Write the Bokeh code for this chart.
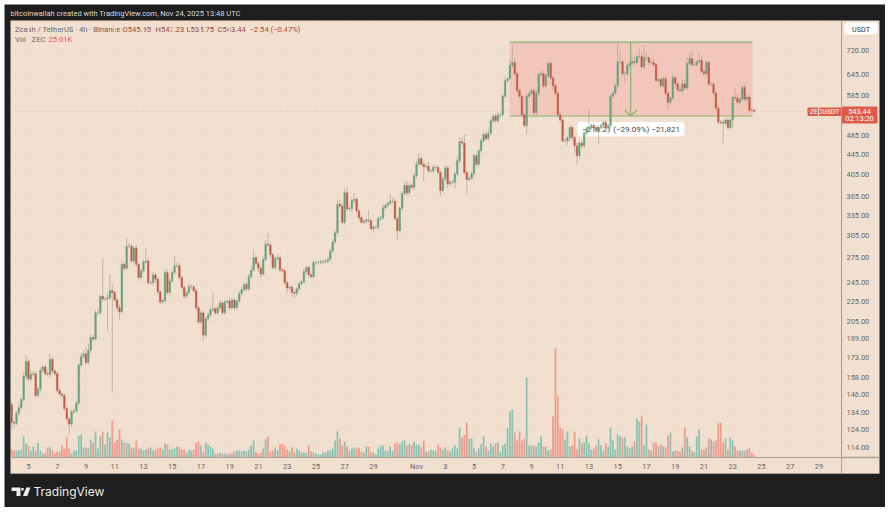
from bokeh.plotting import figure
from bokeh.embed import file_html
from bokeh.resources import INLINE
from bokeh.models import (BoxAnnotation, ColumnDataSource, FixedTicker, Label, LinearScale,
                          PolyAnnotation, PrintfTickFormatter, Range1d, Span)

first_open = 139
closes = [
 128,127.5,133.5,137,142.5,158.5,170,156.5,160,160.5,
 145,149.5,163,165.5,160.5,160,171.5,162.5,160.5,148.5,
 146,145,136.5,130,127,134.5,135,140,167,174,
 176,169,179,190,188.5,213,213,230,227,227,
 228.5,236,234,226,218,214,267,262,290,290,
 271,288,267,251,259,270,271,245,245,254,
 249,235,224,225.5,257,234,247,257,265,265,
 251,240,230,234,240.5,240.5,236,218,204,213,
 192,207,211,216,217,213,218,223,213,224,
 225,218,226,218,225,233,237,243,238,252,
 260,275,268,262,255,273,293,292,279,263,
 274,275,260,259,245,239,240,234,233,238,
 244,246,258,263,254,252,269,269,269,270,
 270,271,273,284,296,309,353,350,324.5,372,
 345,346,359,361,342,331.5,324.5,326,328,327,
 315,317,317,330,331,347,351,354.5,358,358,
 330,312,346,371,385,372,385,382,403,425,
 436,425,420,421,412,412,419,419,409,376,
 397,418,388,391,391,406,432,472,469,409,
 396,398,407,442,425,453,474,488,479,491,
 520,532,520,535,535,583,627,632,673,682,
 647,598,583,535,509,583,590,598,540,591,
 645,647,612,642,679,635,612,591,535,522,
 474,474,481,504,481,463,442,469,463,491,
 502,504,509,504,497,504,509,516,504,509,
 583,591,612,684,684,647,647,673,679,684,
 682,701,701,668,698,698,682,682,675,627,
 630,612,633,591,567,578,635,618,601,598,
 618,606,679,695,675,675,684,688,654,647,
 682,617,617,592,551,517,516,514,522,504,
 522,580,578,567,575,607,575,580,546,545.95,543.44,
]
upper_wick_pct = [
 1,1,1,1.5,1,2,3,1,1.5,1,
 1,1,1.5,1,1,1.5,3,1,1,1,
 1,1,1,1,1,1,1.5,1,1,1.5,
 2,3,3,1.5,1,1.5,2,1,19,1,
 2,8,3,1,1,1.5,2,1,4,1.5,
 1.5,1,1.5,1,1,1,6.5,1,1,1.5,
 1,1,1,1,1.5,1,1.5,1,4.5,1.5,
 1,1,1,1,1.5,1,1,1,1,1,
 1,1,1.5,1.5,8,1,1,1.5,1,1,
 1,1.5,1,1,1,1,1.5,1,1,1.5,
 2,4,1,1,1,1.5,2,5.5,1.5,1,
 1,1.5,1,1,1,1,1,1,1,1,
 1,1,1.5,1,1,1,1,1,1,1,
 1,1,1,1,1.5,1,2,2,1,2,
 3,1,1,3,1,1,1,1,1,4.5,
 1,1,1,1,1,1.5,1,1,3.5,1.5,
 1,1,1,1,1.5,2,1,1,1,1.5,
 2.5,1,1,1,2,1,1,1,1,1,
 1,1,1,1,1,1,2,2,2,4,
 1,1,1,1,1,1,1,1.5,1,2,
 1,1,1,1,1,1,2,1,3,9,
 2,1,1,1,1,1,1,1,1,2,
 1,1,1.5,1,1,1,1,1,1,1,
 1,1,1,1,1,1,1.5,1,1,1,
 1,9,1,1,1,1,1,1,1,1,
 1,1,1,9,5,1,1,1,1,2,
 2,1,4,2,6,2,1,1,1.5,1,
 1,1,1,1,1,1,2,1,1,2,
 2,2,3,3,3.5,2,1,4,2,1,
 1,1,1,1,1,1,1,1,1,1,
 1,1,4.5,2,1,1,1.5,1,1.5,1,0.7,
]
lower_wick_pct = [
 3,2.5,1,1,1,1,1.5,1,1,1,
 1,1,1.5,1,1,1,1.5,1,1,1,
 1,1.5,1,1,5,1.5,1,1,1,1,
 1,1,1,1.5,1,1,1,1,1,1,
 14,1,37,1,1.5,3.5,1,1,1,1,
 1,1.5,1,1.5,1,1,1,1,1,1.5,
 1.5,1.5,1,1,1,1,1.5,1,1,1,
 1,1,1.5,1,1,1,1,1.5,1,1,
 2.5,1,1,1,1,1,1,1,1,1,
 1,1,1,1,1,1,1,1,1,1,
 1,1,1,1.5,2,1,1,1,2,1,
 1,1,1,1,1,2.5,1,2,2.5,1,
 1,1,1,1,1,1,1,1,1,1,
 1,1,1,1,1,1,1,1,1,1,
 1,1,2,1,1,1.5,1,1,1,1,
 1,1.5,1,1,1,1,1,1,1,1,
 1,4.5,1,1,1,1.5,1,1,1,1,
 1,1,6.5,1,1,1,1,1,1,2.5,
 1,1,2,1,1,3,1,1,1,1,
 6.5,1,1,1.5,1,1,1,1,1,1,
 1,1,1,1,1.5,1,1,1,1,1,
 1,1,1,1,1,4,1,1,1,1,
 1,1,1,1,1,1,2,1,1,1,
 1,1,2,1.5,1.5,3,4,1.5,1,1.5,
 1,1,1,1,1,6,1,1,1.5,3,
 1.5,1,1,1,1,1,4,1,1,1,
 1,1,1,1,1,1,1,1,1,1,
 1,1,1,1,3.5,1,1,1,1,1,
 1,1,1,1,1,1,1,1,1,1,
 1,1,1,1,1,1,1,9,1,1,
 1,3.5,1,1,1,1,1,1,1,1,0.4,
]
# volume, thousands of ZEC
volumes_k = [
 80,70,70,70,80,210,140,120,70,110,
 70,150,70,40,50,100,100,80,40,60,
 60,120,90,200,90,40,70,70,220,230,
 100,100,90,180,150,260,90,210,260,130,
 250,200,370,150,180,280,180,150,150,140,
 100,90,170,90,90,70,80,90,100,70,
 80,90,100,80,140,130,80,80,90,110,
 100,80,80,50,80,70,80,150,160,120,
 60,150,130,110,90,40,40,50,40,40,
 30,40,40,60,70,70,60,70,60,80,
 120,170,60,40,50,90,180,210,60,70,
 100,70,130,140,120,80,60,100,50,90,
 70,50,50,50,120,60,50,40,30,30,
 50,50,70,70,90,170,260,190,120,160,
 110,70,90,100,90,100,60,50,110,110,
 60,50,30,90,120,120,70,70,110,70,
 140,150,130,160,170,120,140,120,160,130,
 130,100,170,60,60,80,70,70,130,100,
 80,100,70,60,90,120,90,300,200,230,
 350,190,190,90,60,90,130,210,110,70,
 140,110,140,150,60,120,140,290,460,480,
 250,170,260,170,190,800,120,120,120,110,
 150,210,110,110,70,80,410,1090,610,300,
 280,180,260,110,120,260,80,190,140,150,
 220,140,80,90,120,180,120,70,140,110,
 300,180,80,230,210,200,200,110,90,110,
 160,390,360,410,120,330,80,70,150,150,
 110,130,110,100,220,250,60,70,70,60,
 100,300,200,110,70,50,210,280,80,80,
 100,190,180,160,170,340,350,150,190,80,
 200,170,110,70,70,70,70,80,90,50,25.01,
]
price_ticks = [114,124,134,146,158,173,189,205,225,245,275,305,335,365,405,445,485,585,645,720]
day_ticks = [5,7,9,11,13,15,17,19,21,23,25,27,29,32,34,36,38,40,42,44,46,48,50,52,54,56,58,60]
day_labels = ["5","7","9","11","13","15","17","19","21","23","25","27","29","Nov",
              "3","5","7","9","11","13","15","17","19","21","23","25","27","29"]
range_top, range_bottom = 750.0, 531.8
range_left, range_right, range_arrow = 38.47, 55.38, 46.9
last_price = 543.44

DARK = "#1e1e1e"; PEACH = "#f1dfcf"; AXIS = "#aaa196"; TXT = "#6d665f"
UP = "#65a282"; DOWN = "#c35c49"; VUP = "#8cc4b4"; VDOWN = "#f19b8f"; GREEN = "#86b273"

# ---- back layer: the dark card, the peach panel, header, legend and footer (page pixels)
chrome = figure(width=881, height=503, output_backend="svg", toolbar_location=None,
                x_range=Range1d(4, 885), y_range=Range1d(507, 4),
                x_axis_type=None, y_axis_type=None, min_border=0,
                background_fill_color=DARK, border_fill_color=DARK, outline_line_color=None)
chrome.grid.visible = False
chrome.styles = {"position": "absolute", "left": "4px", "top": "4px"}

def box(l, r, t, b, fill, radius=0):
    chrome.add_layout(BoxAnnotation(left=l, right=r, top=t, bottom=b, fill_color=fill, fill_alpha=1,
                                    line_color=None, border_radius=radius, level="underlay"))

def label(x, y, text, color=TXT, size="7.6px", align="left", font="Roboto", style="normal"):
    chrome.add_layout(Label(x=x, y=y, text=text, text_color=color, text_font_size=size, text_align=align,
                            text_baseline="middle", text_font=font, text_font_style=style))

box(10, 879, 20, 473, PEACH)
box(10, 879, 472.5, 473.5, AXIS)
box(840.6, 841.6, 20, 473, AXIS)
box(841, 879, 456.2, 457.8, AXIS)
label(10, 12.7, "bitcoinwallah created with TradingView.com, Nov 24, 2025 13:48 UTC", color="#d8d8d8", size="7.5px")
label(14.5, 28.5, "Zcash / TetherUS \u00b7 4h \u00b7 Binance", color=TXT)
for x, t in [(122, "O545.95"), (155, "H547.23"), (186, "L535.75"), (217, "C543.44"),
             (249, "\u22122.54 (\u22120.47%)")]:
    label(x, 28.5, t, color="#9e4a3d")
label(14.5, 39, "Vol \u00b7 ZEC", color=TXT)
label(48, 39, "25.01K", color="#e8574b")
box(844, 877, 22, 34, "#ffffff", 3)
label(860.5, 28.5, "USDT", color="#333333", size="7.2px", align="center")
box(807, 841, 107, 115.5, "#df5b49", 1)
label(824, 111.3, "ZECUSDT", color="#ffffff", size="6.8px", align="center")
box(841.5, 877, 106, 123, "#df5b49", 1)
label(859, 111, "543.44", color="#ffffff", size="7.4px", align="center")
label(859, 118.3, "02:13:20", color="#ffffff", size="7.4px", align="center")
for pts in ([(11, 487), (20, 487), (20, 495.5), (16, 495.5), (16, 490.5), (11, 490.5)],
            [(20.8, 487.4), (23.2, 487.4), (23.2, 490), (20.8, 490)],
            [(25.8, 487), (30, 487), (26.8, 495.5), (22.4, 495.5)]):
    chrome.add_layout(PolyAnnotation(xs=[a for a, _ in pts], ys=[b for _, b in pts],
                                     fill_color="#ececec", fill_alpha=1, line_color=None))
label(33, 491, "TradingView", color="#ececec", size="12px", font="Inter")

# ---- front layer: the chart, with a see-through frame and border
n = len(closes)
opens = [first_open] + closes[:-1]
xs = [55.5 - (n - 1 - i) / 6 for i in range(n)]
tops = [max(o, c) for o, c in zip(opens, closes)]
bots = [min(o, c) for o, c in zip(opens, closes)]
src = ColumnDataSource(dict(
    x=xs, top=tops, bottom=bots,
    high=[t * (1 + u / 100) for t, u in zip(tops, upper_wick_pct)],
    low=[b * (1 - l / 100) for b, l in zip(bots, lower_wick_pct)],
    vol=volumes_k,
    color=[UP if c >= o else DOWN for o, c in zip(opens, closes)],
    vcolor=[VUP if c >= o else VDOWN for o, c in zip(opens, closes)],
))

p = figure(width=881, height=503, output_backend="svg", toolbar_location=None,
           y_axis_type="log", y_axis_location="right",
           x_range=Range1d(3.75, 61.57), y_range=Range1d(108.7, 829),
           min_border_left=6, min_border_right=44, min_border_top=16, min_border_bottom=50,
           background_fill_alpha=0, border_fill_alpha=0, outline_line_color=None)
p.styles = {"position": "absolute", "left": "4px", "top": "4px"}
p.extra_y_ranges = {"vol": Range1d(0, 4370)}
p.extra_y_scales = {"vol": LinearScale()}

for ax in (p.xaxis[0], p.yaxis[0]):
    ax.axis_line_color = AXIS
    ax.major_tick_in = 0
    ax.major_tick_out = 0
    ax.major_tick_line_color = None
    ax.minor_tick_line_color = None
    ax.major_label_text_color = TXT
    ax.major_label_text_font = "Roboto"
    ax.major_label_text_font_size = "7.4px"
p.yaxis[0].major_label_standoff = 5
p.xaxis[0].major_label_standoff = 4
p.yaxis[0].ticker = FixedTicker(ticks=price_ticks)
p.yaxis[0].formatter = PrintfTickFormatter(format="%.2f")
p.xaxis[0].ticker = FixedTicker(ticks=day_ticks)
p.xaxis[0].major_label_overrides = dict(zip(day_ticks, day_labels))
p.xgrid.grid_line_color = "#eedccb"
p.ygrid.grid_line_color = "#eedccb"
p.xgrid.ticker = FixedTicker(ticks=day_ticks)
p.ygrid.ticker = FixedTicker(ticks=price_ticks)

# price-range tool, lying under the candles as in the reference
p.quad(left=[range_left], right=[range_right], top=[range_top], bottom=[range_bottom],
       fill_color="#f3c6bc", line_color=None)
p.add_layout(BoxAnnotation(left=577 - 10, right=684 - 10, top=457 - 121.5, bottom=457 - 136,
                           left_units="screen", right_units="screen", top_units="screen", bottom_units="screen",
                           fill_color="#ffffff", fill_alpha=1, line_color=None, border_radius=3, level="underlay"))
p.add_layout(Label(x=630.5 - 10, y=457 - 128.8, x_units="screen", y_units="screen",
                   text="\u2212218.21 (\u221229.09%) \u221221,821", text_color="#4b4640", text_font="Roboto",
                   text_font_size="8px", text_align="center", text_baseline="middle", level="underlay"))
p.add_layout(Span(location=last_price, dimension="width", line_color="#ecb8a6", line_width=1,
                  line_dash="1 2", level="underlay"))
p.segment(x0=[range_left, range_left], x1=[range_right, range_right], y0=[range_top, range_bottom],
          y1=[range_top, range_bottom], line_color=GREEN, line_width=1.2)
head_y = range_bottom * 1.028
p.segment(x0=[range_arrow, range_arrow - 0.42, range_arrow + 0.42],
          x1=[range_arrow, range_arrow, range_arrow],
          y0=[range_top, head_y, head_y], y1=[range_bottom, range_bottom, range_bottom],
          line_color=GREEN, line_width=1.2)

# volume, wicks, bodies
p.vbar(x="x", top="vol", bottom=0, width=0.125, source=src, y_range_name="vol",
       fill_color="vcolor", line_color=None)
p.segment(x0="x", x1="x", y0="low", y1="high", source=src, line_color="#a9a096", line_width=0.8, line_alpha=0.8)
p.vbar(x="x", top="top", bottom="bottom", width=0.115, source=src, fill_color="color",
       line_color="color", line_width=0.4)

open("out.html", "w").write(file_html((chrome, p), INLINE))
